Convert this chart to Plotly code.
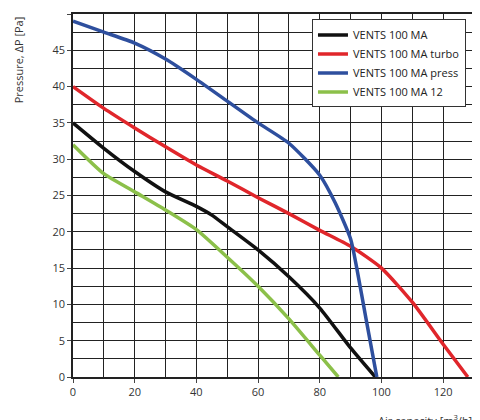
import plotly.graph_objects as go

names = ["VENTS 100 MA", "VENTS 100 MA turbo", "VENTS 100 MA press", "VENTS 100 MA 12"]
colors = ["#111111", "#e0262b", "#2e4f9e", "#8cc04a"]
x_ma = [0, 10, 20, 30, 40, 45, 50, 60, 70, 80, 90, 98]
y_ma = [35, 31.5, 28.3, 25.5, 23.5, 22.3, 20.7, 17.5, 13.8, 9.5, 4, 0]
x_turbo = [0, 10, 20, 30, 40, 50, 60, 70, 80, 90, 100, 110, 120, 128]
y_turbo = [40, 37, 34.3, 31.7, 29.2, 27, 24.7, 22.5, 20.2, 18, 15, 10.3, 4.5, 0]
x_press = [0, 10, 20, 30, 40, 50, 60, 70, 80, 85, 90, 92, 95, 98.5]
y_press = [49, 47.5, 46, 43.8, 41, 38, 35, 32.2, 27.8, 24, 19, 15, 8, 0]
x_12 = [0, 10, 20, 30, 40, 50, 60, 70, 80, 86]
y_12 = [32, 28, 25.5, 23, 20.3, 16.5, 12.5, 8, 3, 0]
xs = [x_ma, x_turbo, x_press, x_12]
ys = [y_ma, y_turbo, y_press, y_12]
y_ticks = [0, 5, 10, 15, 20, 25, 30, 35, 40, 45, 50]
x_ticks = [0, 20, 40, 60, 80, 100, 120]

fig = go.Figure()
for n, c, x, y in zip(names, colors, xs, ys):
    fig.add_trace(go.Scatter(x=x, y=y, name=n, mode="lines",
                             line=dict(color=c, width=3.5, shape="spline", smoothing=0.6)))

fig.update_layout(
    width=480, height=420, margin=dict(l=65, r=14, t=6, b=51, autoexpand=False),
    plot_bgcolor="white", paper_bgcolor="white",
    font=dict(family="Open Sans, DejaVu Sans", size=11, color="#333"),
    showlegend=True,
    legend=dict(x=0.98, y=0.985, xanchor="right", yanchor="top",
                bgcolor="white", bordercolor="#333", borderwidth=1,
                font=dict(size=11, color="#222"), tracegroupgap=0),
)
fig.update_xaxes(range=[0, 130], tickvals=x_ticks, automargin=False,
                 showgrid=True, gridcolor="#222", gridwidth=1.2,
                 minor=dict(dtick=10, showgrid=True, gridcolor="#222", gridwidth=1.2),
                 showline=True, linecolor="#222", linewidth=1.5, mirror=True,
                 ticks="outside", ticklen=4, zeroline=False, fixedrange=True)
fig.update_yaxes(range=[0, 50], tickvals=y_ticks, automargin=False,
                 showgrid=True, gridcolor="#222", gridwidth=1.2,
                 minor=dict(dtick=2.5, showgrid=True, gridcolor="#222", gridwidth=0.8),
                 showline=True, linecolor="#222", linewidth=1.5, mirror=True,
                 ticks="outside", ticklen=4, zeroline=False, fixedrange=True)
fig.add_annotation(text="Pressure, ΔP [Pa]", xref="paper", yref="paper", x=-0.135, y=1.0,
                   xanchor="center", yanchor="top", textangle=-90, showarrow=False,
                   font=dict(size=11, color="#333"))
fig.add_annotation(text="Air capacity [m<sup>3</sup>/h]", xref="paper", yref="paper", x=1.0, y=-0.09,
                   xanchor="right", yanchor="top", showarrow=False,
                   font=dict(size=11, color="#333"))
fig.write_html("out.html")
